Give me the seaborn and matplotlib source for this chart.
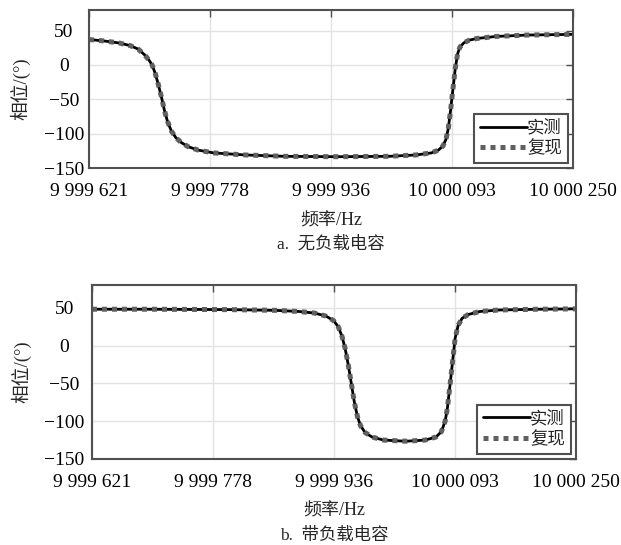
import matplotlib
matplotlib.use('Agg')
import matplotlib.pyplot as plt
import seaborn as sns

# --- DATOS ---
freq_ticks = [9999621, 9999778, 9999936, 10000093, 10000250]
freq_labels = ['9 999 621', '9 999 778', '9 999 936', '10 000 093', '10 000 250']

# a. 无负载电容
freq_a = [9999621, 9999640, 9999660, 9999675, 9999685, 9999693, 9999699, 9999703,
          9999707, 9999711, 9999715, 9999719, 9999723, 9999728, 9999734, 9999741,
          9999750, 9999763, 9999783, 9999824, 9999876, 9999943, 10000010, 10000046,
          10000066, 10000075, 10000081, 10000085, 10000088, 10000091, 10000094,
          10000097, 10000100, 10000103, 10000108, 10000115, 10000125, 10000150,
          10000190, 10000250]
meas_a = [37, 35, 32, 28, 23, 15, 7, 0,
          -12, -28, -46, -66, -82, -96, -106, -113,
          -119, -124, -128, -131, -133, -133.5, -133, -131,
          -128, -124, -118, -108, -92, -65, -35,
          -5, 16, 26, 32, 36, 38.5, 41.5,
          43.5, 44.5]
rep_a = [37, 35, 32, 28, 23, 15, 7, 0,
         -12, -28, -46, -66, -82, -96, -106, -113,
         -119, -124, -128, -131, -133, -133.5, -133, -131,
         -128, -124, -118, -108, -92, -65, -35,
         -5, 16, 26, 32, 36, 38.5, 41.5,
         43.5, 44.5]

# b. 带负载电容
freq_b = [9999621, 9999700, 9999800, 9999860, 9999890, 9999910, 9999925, 9999935,
          9999941, 9999946, 9999950, 9999954, 9999958, 9999962, 9999966, 9999970,
          9999976, 9999985, 10000000, 10000029, 10000054, 10000068, 10000075,
          10000080, 10000083, 10000086, 10000090, 10000093, 10000097, 10000102,
          10000110, 10000125, 10000150, 10000200, 10000250]
meas_b = [48, 48, 47.5, 46.5, 45, 43, 39, 33,
          25, 12, -4, -25, -50, -75, -94, -106,
          -115, -121, -125, -126.5, -125, -121, -114,
          -100, -82, -55, -18, 10, 27, 36,
          41, 45, 47, 48, 48.5]
rep_b = [48, 48, 47.5, 46.5, 45, 43, 39, 33,
         25, 12, -4, -25, -50, -75, -94, -106,
         -115, -121, -125, -126.5, -125, -121, -114,
         -100, -82, -55, -18, 10, 27, 36,
         41, 45, 47, 48, 48.5]

# --- ESTILO ---
sns.set_theme(style='white')
plt.rcParams['font.family'] = ['Liberation Serif', 'Noto Sans CJK SC']
plt.rcParams['axes.unicode_minus'] = True
fs = 14
frame_col = '#505050'

fig = plt.figure(figsize=(6.21, 5.45), dpi=100)
ax_a = fig.add_axes([0.1433, 0.6917, 0.7794, 0.29])
ax_b = fig.add_axes([0.1481, 0.1578, 0.7794, 0.3192])

paneles = [(ax_a, freq_a, meas_a, rep_a, 18, 11, -0.28, -0.12, 'a.  无负载电容', 244),
           (ax_b, freq_b, meas_b, rep_b, 20, 10.5, -0.25, -0.126, 'b.  带负载电容', 536)]
for ax, f, m, r, ypad, xpad, xlab_y, ylab_x, titulo, tit_y in paneles:
    sns.lineplot(x=f, y=m, ax=ax, color='black', linewidth=2.0, label='实测',
                 sort=False, estimator=None)
    sns.lineplot(x=f, y=r, ax=ax, color='#606060', linewidth=3.6,
                 linestyle=(0, (1, 1)), label='复现', sort=False, estimator=None)
    ax.set_xlim(freq_ticks[0], freq_ticks[-1])
    ax.set_ylim(-150, 80)
    ax.set_yticks([-150, -100, -50, 0, 50])
    ax.set_xticks(freq_ticks)
    ax.set_xticklabels(freq_labels)
    ax.grid(True, color='#e2e2e2', linewidth=1.0)
    ax.set_axisbelow(True)
    for s in ax.spines.values():
        s.set_color(frame_col)
        s.set_linewidth(1.5)
        s.set_zorder(5)
    ax.tick_params(direction='in', length=5, width=1.0, color=frame_col,
                   top=True, right=True, labelsize=fs, labelcolor='black')
    ax.tick_params(axis='x', pad=xpad)
    ax.tick_params(axis='y', pad=ypad)
    for lab in ax.get_yticklabels():
        lab.set_horizontalalignment('center')
    ax.set_xlabel('频率/Hz', fontsize=13)
    ax.xaxis.set_label_coords(0.5, xlab_y)
    ax.set_ylabel('相位/(°)', fontsize=13.5)
    ax.yaxis.set_label_coords(ylab_x, 0.5)
    leg = ax.legend(loc='lower right', fontsize=12.5, frameon=True, fancybox=False,
                    framealpha=1, edgecolor=frame_col, handlelength=2.7,
                    handletextpad=0.0, borderaxespad=0.3, borderpad=0.35,
                    labelspacing=0.2)
    leg.get_frame().set_linewidth(1.5)
    fig.text(0.5 * (ax.get_position().x0 + ax.get_position().x1), 1 - tit_y / 545,
             titulo, ha='center', va='center', fontsize=12.5)

plt.savefig('out.png', dpi=100)
